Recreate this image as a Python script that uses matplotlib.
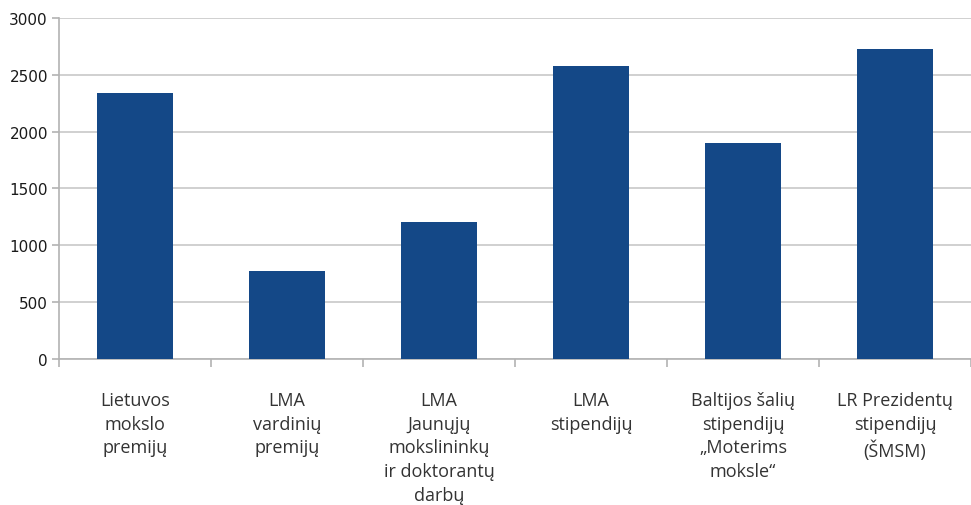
import matplotlib.pyplot as plt
import numpy as np

categories = [
    'Lietuvos\nmokslo\npremijų',
    'LMA\nvardinių\npremijų',
    'LMA\nJaunųjų\nmokslininkų\nir doktorantų\ndarbų',
    'LMA\nstipendijų',
    'Baltijos šalių\nstipendijų\n„Moterims\nmoksle“',
    'LR Prezidentų\nstipendijų\n(ŠMSM)',
]
values = [2340, 775, 1205, 2578, 1900, 2727]
yticks = [0, 500, 1000, 1500, 2000, 2500, 3000]

fig = plt.figure(figsize=(9.71, 5.06), dpi=100)
ax = fig.add_axes([0.0608, 0.289, 0.9392, 0.6735])

x = np.arange(len(categories))
ax.bar(x, values, width=0.5, color='#144887', zorder=3)

ax.set_xlim(-0.5, len(categories) - 0.5)
ax.set_ylim(0, 3000)
ax.set_yticks(yticks)
ax.yaxis.grid(True, color='#c8c8c8', linewidth=1.2, zorder=0)

ax.set_xticks(x)
ax.set_xticklabels(categories, fontfamily='Open Sans', fontsize=13,
                   color='#333333', linespacing=1.42, va='top')
ax.tick_params(axis='x', which='major', length=0, pad=23)
ax.set_xticks(np.arange(len(categories) + 1) - 0.5, minor=True)
ax.tick_params(axis='x', which='minor', length=6, color='#b3b3b3', width=1.2)
ax.tick_params(axis='y', length=5, color='#b3b3b3', width=1.2,
               labelsize=11, labelcolor='#1a1a1a', pad=3)

for s in ['top', 'right']:
    ax.spines[s].set_visible(False)
for s in ['left', 'bottom']:
    ax.spines[s].set_color('#b3b3b3')
    ax.spines[s].set_linewidth(1.2)

fig.savefig('out.png', dpi=100)
